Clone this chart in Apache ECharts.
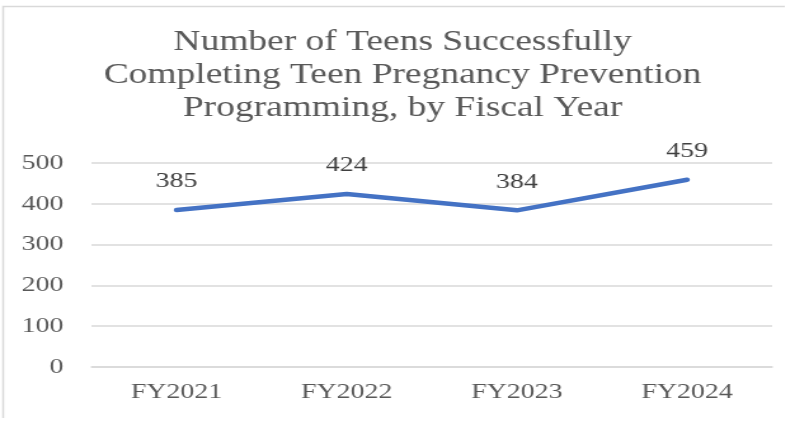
<!DOCTYPE html>
<html lang="en">
<head>
    <meta charset="UTF-8">
    <title>Teen Pregnancy Prevention</title>
    <style>
        html, body {
            margin: 0;
            padding: 0;
            background: #fff;
            overflow: hidden;
        }
        /* the source picture is stretched sideways, so draw narrow and stretch */
        #chart {
            width: 627px;
            height: 421px;
            transform: scaleX(1.27);
            transform-origin: 0 0;
        }
    </style>
</head>
<body>
<div id="chart"></div>
<script src="https://cdn.jsdelivr.net/npm/echarts@6/dist/echarts.min.js"></script>
<script>
    var years = ['FY2021', 'FY2022', 'FY2023', 'FY2024'];
    var teens = [385, 424, 384, 459];
    var yTicks = [0, 100, 200, 300, 400, 500];

    var serif = '"Liberation Serif", "DejaVu Serif", serif';
    var myChart = echarts.init(document.getElementById('chart'));

    var option = {
        animation: false,
        title: {
            text: 'Number of Teens Successfully\nCompleting Teen Pregnancy Prevention\nProgramming, by Fiscal Year',
            left: 317,
            top: 26,
            padding: 0,
            textAlign: 'center',
            textStyle: {
                fontFamily: serif,
                fontSize: 29.5,
                fontWeight: 'normal',
                lineHeight: 33,
                color: '#595959'
            }
        },
        graphic: [{
            type: 'polyline',
            silent: true,
            shape: { points: [[2.5, 418], [2.5, 6.5], [618, 6.5]] },
            style: { stroke: '#d9d9d9', lineWidth: 1.5, fill: null }
        }],
        grid: {
            left: 72,
            right: 19,
            top: 163,
            bottom: 54
        },
        xAxis: {
            type: 'category',
            data: years,
            boundaryGap: true,
            axisTick: { show: false },
            axisLine: { lineStyle: { color: '#d9d9d9', width: 1.5 } },
            axisLabel: {
                margin: 14,
                fontFamily: serif,
                fontSize: 22,
                color: '#595959'
            }
        },
        yAxis: {
            type: 'value',
            min: yTicks[0],
            max: yTicks[yTicks.length - 1],
            interval: 100,
            axisLine: { show: false },
            axisTick: { show: false },
            axisLabel: {
                margin: 22,
                fontFamily: serif,
                fontSize: 22,
                color: '#595959'
            },
            splitLine: { lineStyle: { color: '#d9d9d9', width: 1.5 } }
        },
        series: [{
            type: 'line',
            data: teens,
            symbol: 'circle',
            symbolSize: 1,
            itemStyle: { color: '#4472c4' },
            lineStyle: { color: '#4472c4', width: 4.5, cap: 'round', join: 'round' },
            label: {
                show: true,
                position: 'top',
                distance: 17,
                fontFamily: serif,
                fontSize: 22,
                color: '#404040'
            }
        }]
    };
    myChart.setOption(option);
</script>
</body>
</html>
